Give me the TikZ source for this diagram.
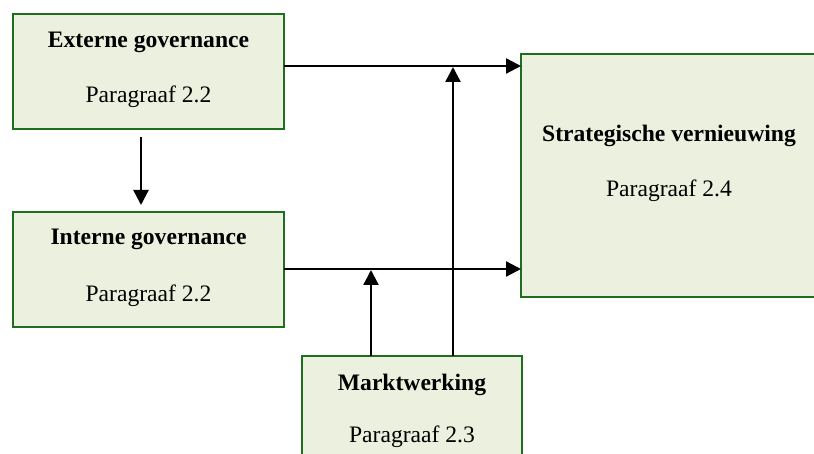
\documentclass[tikz,border=0pt]{standalone}
\usepackage{fontspec}
\setmainfont{Liberation Serif}
\usetikzlibrary{arrows.meta}
\definecolor{boxfill}{HTML}{EBF1DE}
\definecolor{boxline}{HTML}{1E6E1E}
\tikzset{
  box/.style={draw=boxline, fill=boxfill, line width=1.8pt, inner sep=0pt},
  ttl/.style={anchor=base, font=\fontsize{23.6}{28}\selectfont\bfseries, inner sep=0pt},
  sub/.style={anchor=base, font=\fontsize{23.6}{28}\selectfont, inner sep=0pt},
  conn/.style={line width=2.3pt, -{Triangle[length=15pt,width=15pt]}}
}
\begin{document}
\begin{tikzpicture}[x=1pt,y=-1pt]
\useasboundingbox (0,0) rectangle (814,454);
\begin{scope}
\clip (0,0) rectangle (814,454);
% boxes
\node[box, minimum width=271pt, minimum height=115pt] (ext) at (148.5,71.5) {};
\node[box, minimum width=271pt, minimum height=115pt] (int) at (148.5,269.5) {};
\node[box, minimum width=296pt, minimum height=243pt] (str) at (669,175.5) {};
\node[box, minimum width=220pt, minimum height=120pt] (mkt) at (412,416) {};
\end{scope}
% texts
\node[ttl] (extT) at (148.5,48) {Externe governance};
\node[sub] (extP) at (148.5,103) {Paragraaf 2.2};
\node[ttl] (intT) at (148.5,245) {Interne governance};
\node[sub] (intP) at (148.5,302) {Paragraaf 2.2};
\node[ttl] (strT) at (669,142) {Strategische vernieuwing};
\node[sub] (strP) at (669,197) {Paragraaf 2.4};
\node[ttl] (mktT) at (412,390) {Marktwerking};
\node[sub] (mktP) at (412,442) {Paragraaf 2.3};
% connection points
\coordinate (a1s) at (284,66);
\coordinate (a1e) at (521,66);
\coordinate (a3s) at (284,269);
\coordinate (a3e) at (521,269);
\coordinate (v1s) at (453,356);
\coordinate (v1e) at (453,67);
\coordinate (v2s) at (371,356);
\coordinate (v2e) at (371,270);
\coordinate (dS) at (141,137);
\coordinate (dE) at (141,205);
% connectors
\draw[conn] (a1s) -- (a1e);
\draw[conn] (a3s) -- (a3e);
\draw[conn] (v1s) -- (v1e);
\draw[conn] (v2s) -- (v2e);
\draw[conn] (dS) -- (dE);
\end{tikzpicture}
\end{document}
